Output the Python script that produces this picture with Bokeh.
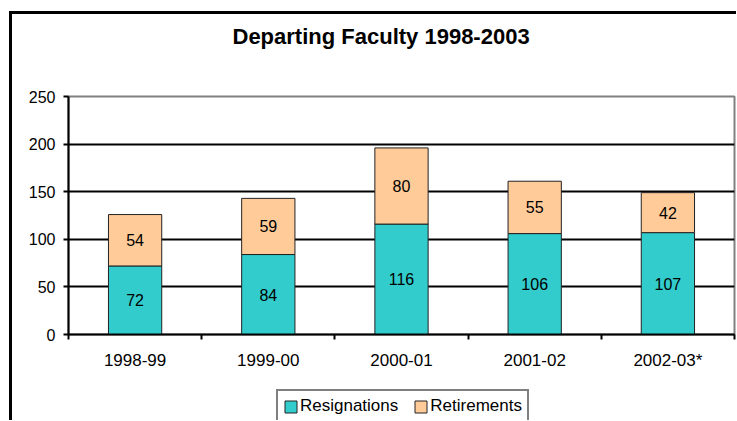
from bokeh.plotting import figure
from bokeh.layouts import column
from bokeh.models import (ColumnDataSource, FixedTicker, Range1d, LabelSet, Legend,
                          LegendItem, Title, Plot, VBar)
from bokeh.core.properties import value
from bokeh.embed import file_html
from bokeh.resources import INLINE

categories = ["1998-99", "1999-00", "2000-01", "2001-02", "2002-03*"]
resignations = [72, 84, 116, 106, 107]
retirements = [54, 59, 80, 55, 42]
y_ticks = [0, 50, 100, 150, 200, 250]
series_names = ["Resignations", "Retirements"]
title_text = "Departing Faculty 1998-2003"

FONT = "Liberation Sans"
TEAL = "#33CCCC"
PEACH = "#FFCC99"
W = 724

# ---------------- title strip ----------------
p_title = Plot(width=W, height=70, title=None, toolbar_location=None,
               output_backend="svg", x_range=Range1d(0, 1), y_range=Range1d(0, 1),
               min_border_left=56, min_border_right=2, min_border_top=34,
               min_border_bottom=0, outline_line_color=None,
               border_fill_color="white", background_fill_color="white")
p_title.add_layout(Title(text=title_text, align="left", offset=164, standoff=0,
                         vertical_align="bottom", text_font=FONT,
                         text_font_size="22px", text_font_style="bold",
                         text_color="black"), "above")

# ---------------- main chart ----------------
xs = [i + 0.5 for i in range(len(categories))]
tops = [a + b for a, b in zip(resignations, retirements)]
src = ColumnDataSource(dict(
    x=xs,
    res=resignations,
    ret=retirements,
    top=tops,
    res_mid=[a / 2 for a in resignations],
    ret_mid=[a + b / 2 for a, b in zip(resignations, retirements)],
    res_lbl=[str(v) for v in resignations],
    ret_lbl=[str(v) for v in retirements],
))

p = figure(width=W, height=290, output_backend="svg", toolbar_location=None,
           title=None,
           x_range=Range1d(0, len(categories)), y_range=Range1d(0, 250),
           min_border_left=56, min_border_right=2, min_border_top=12,
           min_border_bottom=40)
p.background_fill_color = "white"
p.border_fill_color = "white"
p.outline_line_color = "#808080"
p.outline_line_width = 2

xa = p.below[0]
ya = p.left[0]

res_glyph = dict(x="x", bottom=0, top="res", width=0.4, fill_color=TEAL,
                 line_color="#222222", line_width=1)
ret_glyph = dict(x="x", bottom="res", top="top", width=0.4, fill_color=PEACH,
                 line_color="#222222", line_width=1)
p.vbar(source=src, **res_glyph)
p.vbar(source=src, **ret_glyph)

for ycol, lcol in (("res_mid", "res_lbl"), ("ret_mid", "ret_lbl")):
    p.add_layout(LabelSet(x="x", y=ycol, text=lcol, source=src,
                          text_align="center", text_baseline="middle",
                          text_font=value(FONT), text_font_size=value("16px"),
                          text_color="black"))

p.xgrid.visible = False
p.ygrid.ticker = FixedTicker(ticks=y_ticks)
p.ygrid.grid_line_color = "black"
p.ygrid.grid_line_width = 2

ya.ticker = FixedTicker(ticks=y_ticks)
ya.axis_line_width = 2
ya.axis_line_color = "black"
ya.major_tick_line_width = 2
ya.major_tick_out = 5
ya.major_tick_in = 0
ya.minor_tick_line_color = None
ya.major_label_standoff = 8
ya.major_label_text_font = FONT
ya.major_label_text_font_size = "16px"
ya.major_label_text_color = "black"

xa.ticker = FixedTicker(ticks=xs, minor_ticks=list(range(len(categories) + 1)))
xa.major_label_overrides = {x: c for x, c in zip(xs, categories)}
xa.axis_line_width = 2
xa.axis_line_color = "black"
xa.major_tick_out = 0
xa.major_tick_in = 0
xa.major_tick_line_color = None
xa.minor_tick_line_color = "black"
xa.minor_tick_line_width = 2
xa.minor_tick_out = 5
xa.minor_tick_in = 0
xa.major_label_standoff = 11
xa.major_label_text_font = FONT
xa.major_label_text_font_size = "17px"
xa.major_label_text_color = "black"

# ---------------- legend strip ----------------
# same series glyphs; ranges far from the data keep the bars themselves out of view
p_leg = Plot(width=W, height=46, title=None, toolbar_location=None,
             output_backend="svg", x_range=Range1d(100, 105),
             y_range=Range1d(1000, 1250),
             min_border_left=56, min_border_right=2, min_border_top=0,
             min_border_bottom=0, outline_line_color=None,
             border_fill_color="white", background_fill_color="white")
leg_renderers = [p_leg.add_glyph(src, VBar(**g)) for g in (res_glyph, ret_glyph)]

legend = Legend(items=[LegendItem(label=n, renderers=[r])
                       for n, r in zip(series_names, leg_renderers)],
                orientation="horizontal", location=(208, -3),
                glyph_width=15, glyph_height=15, label_standoff=2, spacing=15,
                padding=5, margin=0, label_height=19,
                label_text_font=FONT, label_text_font_size="17px",
                label_text_color="black",
                border_line_color="black", border_line_width=2,
                background_fill_color="white", background_fill_alpha=1)
p_leg.add_layout(legend, "center")

root = column(p_title, p, p_leg, spacing=0)
root.styles = {"border-left": "3px solid black", "border-top": "3px solid black",
               "margin-left": "9px", "margin-top": "11px"}

open("out.html", "w").write(file_html(root, INLINE))
